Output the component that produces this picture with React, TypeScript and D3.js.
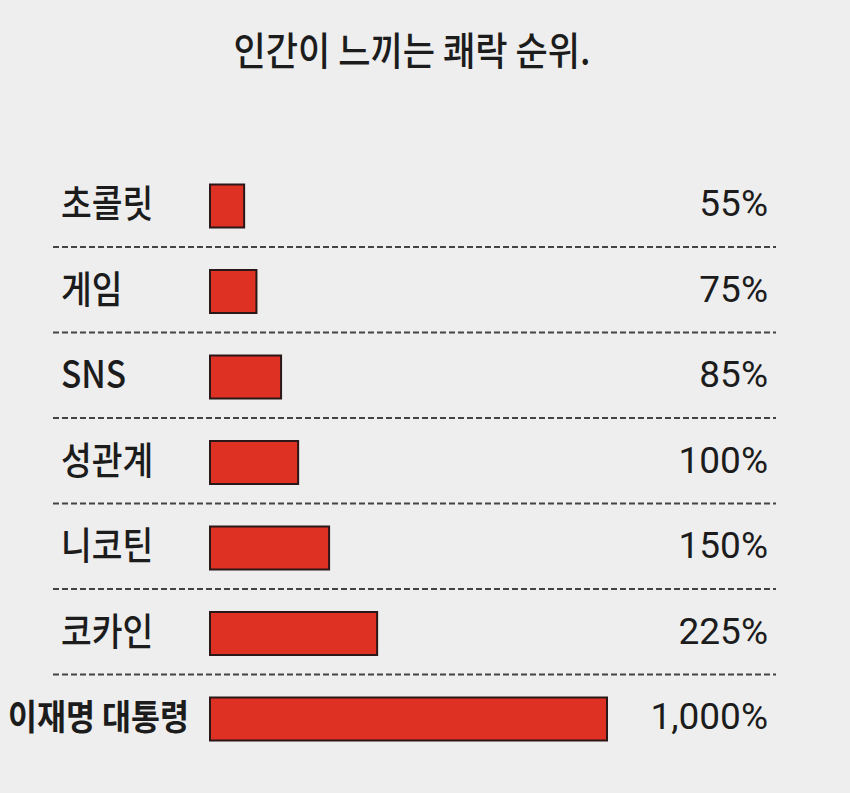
import * as d3 from "d3";

const categories = ["초콜릿", "게임", "SNS", "성관계", "니코틴", "코카인", "이재명 대통령"];
const valueLabels = ["55%", "75%", "85%", "100%", "150%", "225%", "1,000%"];
// drawn bar length, as a share of the longest bar
const barShare = [8.6, 11.7, 17.9, 22.2, 30.0, 42.1, 100];

const width = 850;
const height = 793;
const margin = { top: 206, bottom: 74, barLeft: 210, barMax: 397 };

export default function App() {
  const yScale = d3
    .scalePoint<string>()
    .domain(categories)
    .range([margin.top, height - margin.bottom]);

  const xScale = d3
    .scaleLinear()
    .domain([0, 100])
    .range([0, margin.barMax]);

  const barHeight = 43;
  const kFont = "'Noto Sans CJK KR', 'Noto Sans', sans-serif";

  return (
    <svg
      width={width}
      height={height}
      style={{ position: "absolute", left: 0, top: 0, background: "#eeeeee" }}
    >
      <rect width={width} height={height} fill="#eeeeee" />

      {/* Title */}
      <text
        transform={`translate(412, 65) scale(0.9, 1)`}
        textAnchor="middle"
        fontFamily={kFont}
        fontSize={39}
        fontWeight={500}
        fill="#1c1c1c"
      >
        인간이 느끼는 쾌락 순위.
      </text>

      {/* Dashed separators */}
      {categories.slice(0, -1).map((c) => {
        const y = (yScale(c) || 0) + 41;
        return (
          <line
            key={`sep-${c}`}
            x1={53}
            x2={776}
            y1={y}
            y2={y}
            stroke="#444"
            strokeWidth={1.8}
            strokeDasharray="6 3"
          />
        );
      })}

      {/* Category labels */}
      {categories.map((c, i) => {
        const last = i === categories.length - 1;
        const y = (yScale(c) || 0) + 11;
        return (
          <text
            key={`lab-${c}`}
            transform={`translate(${last ? 8 : 61}, ${y}) scale(${last ? 0.9 : 0.88}, 1)`}
            fontFamily={kFont}
            fontSize={last ? 35 : 38}
            fontWeight={last ? 700 : 500}
            fill="#1c1c1c"
          >
            {c}
          </text>
        );
      })}

      {/* Bars */}
      {categories.map((c, i) => (
        <rect
          key={`bar-${c}`}
          x={margin.barLeft}
          y={(yScale(c) || 0) - barHeight / 2}
          width={xScale(barShare[i])}
          height={barHeight}
          fill="#de3124"
          stroke="#2a1717"
          strokeWidth={2}
        />
      ))}

      {/* Value labels */}
      {categories.map((c, i) => (
        <text
          key={`val-${c}`}
          x={768}
          y={(yScale(c) || 0) + 10}
          textAnchor="end"
          fontFamily="Roboto, sans-serif"
          fontSize={37}
          fill="#1c1c1c"
        >
          {valueLabels[i]}
        </text>
      ))}
    </svg>
  );
}
